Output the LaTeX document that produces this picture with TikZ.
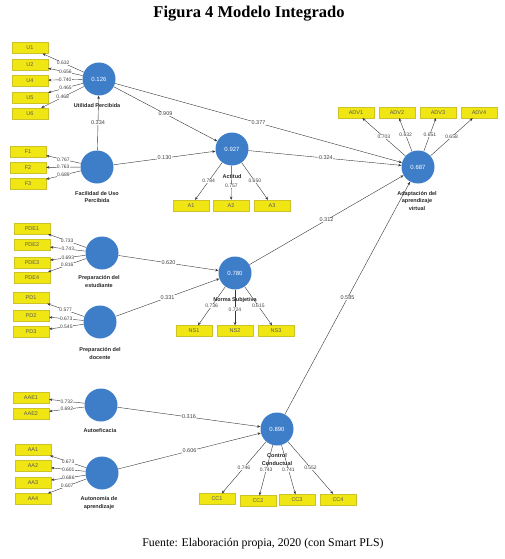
\documentclass[tikz,border=0pt]{standalone}
\usepackage{fontspec}
\setmainfont{Liberation Serif}
\setsansfont{Liberation Sans}
\usetikzlibrary{arrows.meta}
\definecolor{lvblue}{RGB}{62,125,200}
\definecolor{indyellow}{RGB}{240,230,20}
\definecolor{indborder}{RGB}{205,195,40}
\definecolor{linegray}{RGB}{55,55,55}
\begin{document}
\begin{tikzpicture}[x=1pt,y=-1pt,
 lat/.style={circle,fill=lvblue,minimum size=33pt,inner sep=0pt,text=white,font=\sffamily\fontsize{6}{6}\selectfont},
 ind/.style={rectangle,fill=indyellow,draw=indborder,line width=0.3pt,minimum width=36pt,minimum height=11pt,inner sep=0pt,font=\sffamily\fontsize{5.5}{5.5}\selectfont,text=black!65},
 lname/.style={font=\sffamily\bfseries\fontsize{5.5}{7.5}\selectfont,align=center,text=black!85},
 ld/.style={draw=linegray,line width=0.4pt,-{Stealth[length=3.2pt,width=2.6pt]}},
 lv/.style={font=\sffamily\fontsize{5}{5}\selectfont,fill=white,inner sep=0.4pt,text=black!75},
 sv/.style={font=\sffamily\fontsize{5.5}{5.5}\selectfont,fill=white,inner sep=0.4pt,text=black!75},
]
\useasboundingbox (0,0) rectangle (504,559);

% title and caption
\node[font=\bfseries\fontsize{16.5}{18}\selectfont] (title) at (249,14) {Figura 4 Modelo Integrado};
\node[font=\fontsize{11.8}{13}\selectfont] (caption) at (263,544) {Fuente: Elaboración propia, 2020 (con Smart PLS)};

% latent variables
\node[lat] (UP) at (99,79) {0.126};
\node[lat] (FU) at (97,167) {};
\node[lat] (ACT) at (232,149) {0.927};
\node[lat] (ADP) at (418,167) {0.687};
\node[lat] (PDE) at (102,253) {};
\node[lat] (NS) at (235,273) {0.780};
\node[lat] (PD) at (100,322) {};
\node[lat] (AE) at (101,405) {};
\node[lat] (AA) at (102,473) {};
\node[lat] (CC) at (277,429) {0.890};

% indicators
\node[ind] (U1) at (30,48) {U1};
\node[ind] (U2) at (30,64.5) {U2};
\node[ind] (U4) at (30,80.5) {U4};
\node[ind] (U5) at (30,97.5) {U5};
\node[ind] (U6) at (30,113.5) {U6};
\node[ind] (F1) at (28,151.5) {F1};
\node[ind] (F2) at (28,167.5) {F2};
\node[ind] (F3) at (28,183.5) {F3};
\node[ind] (A1) at (191,205.5) {A1};
\node[ind] (A2) at (231,205.5) {A2};
\node[ind] (A3) at (272,205.5) {A3};
\node[ind] (ADV1) at (356,112.5) {ADV1};
\node[ind] (ADV2) at (397,112.5) {ADV2};
\node[ind] (ADV3) at (438,112.5) {ADV3};
\node[ind] (ADV4) at (479,112.5) {ADV4};
\node[ind] (PDE1) at (32,228.5) {PDE1};
\node[ind] (PDE2) at (32,245) {PDE2};
\node[ind] (PDE3) at (32,262.5) {PDE3};
\node[ind] (PDE4) at (32,277.5) {PDE4};
\node[ind] (PD1) at (31,298) {PD1};
\node[ind] (PD2) at (31,315.5) {PD2};
\node[ind] (PD3) at (31,331.5) {PD3};
\node[ind] (NS1) at (194,331) {NS1};
\node[ind] (NS2) at (235,331) {NS2};
\node[ind] (NS3) at (276,331) {NS3};
\node[ind] (AAE1) at (31,397.5) {AAE1};
\node[ind] (AAE2) at (31,413.5) {AAE2};
\node[ind] (AA1) at (33,450) {AA1};
\node[ind] (AA2) at (33,466) {AA2};
\node[ind] (AA3) at (33,482.5) {AA3};
\node[ind] (AA4) at (33,499) {AA4};
\node[ind] (CC1) at (217,499) {CC1};
\node[ind] (CC2) at (258,501) {CC2};
\node[ind] (CC3) at (297,500) {CC3};
\node[ind] (CC4) at (338,499.5) {CC4};

% outer loadings
\draw[ld] (UP) -- node[lv]{0.632} (U1);
\draw[ld] (UP) -- node[lv]{0.656} (U2);
\draw[ld] (UP) -- node[lv]{0.740} (U4);
\draw[ld] (UP) -- node[lv]{0.465} (U5);
\draw[ld] (UP) -- node[lv]{0.468} (U6);
\draw[ld] (FU) -- node[lv]{0.767} (F1);
\draw[ld] (FU) -- node[lv]{0.763} (F2);
\draw[ld] (FU) -- node[lv]{0.689} (F3);
\draw[ld] (ACT) -- node[lv]{0.784} (A1);
\draw[ld] (ACT) -- node[lv,pos=0.6]{0.757} (A2);
\draw[ld] (ACT) -- node[lv]{0.650} (A3);
\draw[ld] (ADP) -- node[lv]{0.703} (ADV1);
\draw[ld] (ADP) -- node[lv]{0.632} (ADV2);
\draw[ld] (ADP) -- node[lv]{0.651} (ADV3);
\draw[ld] (ADP) -- node[lv]{0.658} (ADV4);
\draw[ld] (PDE) -- node[lv]{0.733} (PDE1);
\draw[ld] (PDE) -- node[lv]{0.743} (PDE2);
\draw[ld] (PDE) -- node[lv]{0.693} (PDE3);
\draw[ld] (PDE) -- node[lv]{0.816} (PDE4);
\draw[ld] (PD) -- node[lv]{0.577} (PD1);
\draw[ld] (PD) -- node[lv]{0.673} (PD2);
\draw[ld] (PD) -- node[lv]{0.545} (PD3);
\draw[ld] (NS) -- node[lv]{0.736} (NS1);
\draw[ld] (NS) -- node[lv,pos=0.55]{0.724} (NS2);
\draw[ld] (NS) -- node[lv]{0.615} (NS3);
\draw[ld] (AE) -- node[lv]{0.732} (AAE1);
\draw[ld] (AE) -- node[lv]{0.692} (AAE2);
\draw[ld] (AA) -- node[lv]{0.673} (AA1);
\draw[ld] (AA) -- node[lv]{0.601} (AA2);
\draw[ld] (AA) -- node[lv]{0.686} (AA3);
\draw[ld] (AA) -- node[lv]{0.607} (AA4);
\draw[ld] (CC) -- node[lv]{0.746} (CC1);
\draw[ld] (CC) -- node[lv]{0.743} (CC2);
\draw[ld] (CC) -- node[lv]{0.741} (CC3);
\draw[ld] (CC) -- node[lv]{0.552} (CC4);

% structural paths
\draw[ld] (FU) -- node[sv]{0.334} (UP);
\draw[ld] (UP) -- node[sv]{0.909} (ACT);
\draw[ld] (UP) -- node[sv]{0.377} (ADP);
\draw[ld] (FU) -- node[sv]{0.130} (ACT);
\draw[ld] (ACT) -- node[sv]{-0.324} (ADP);
\draw[ld] (PDE) -- node[sv]{0.620} (NS);
\draw[ld] (PD) -- node[sv]{0.331} (NS);
\draw[ld] (NS) -- node[sv]{0.312} (ADP);
\draw[ld] (AE) -- node[sv]{0.316} (CC);
\draw[ld] (AA) -- node[sv]{0.606} (CC);
\draw[ld] (CC) -- node[sv]{0.585} (ADP);

% latent variable names
\node[lname] (nUP) at (97,106) {Utilidad Percibida};
\node[lname] (nFU) at (97,197) {Facilidad de Uso\\Percibida};
\node[lname] (nACT) at (232,177) {Actitud};
\node[lname] (nADP) at (417,201) {Adaptación del\\aprendizaje\\virtual};
\node[lname] (nPDE) at (99,281.5) {Preparación del\\estudiante};
\node[lname] (nNS) at (235,300) {Norma Subjetiva};
\node[lname] (nPD) at (100,353.5) {Preparación del\\docente};
\node[lname] (nAE) at (100,431) {Autoeficacia};
\node[lname] (nAA) at (99,503) {Autonomía de\\aprendizaje};
\node[lname] (nCC) at (277,459.5) {Control\\Conductual};
\end{tikzpicture}
\end{document}
